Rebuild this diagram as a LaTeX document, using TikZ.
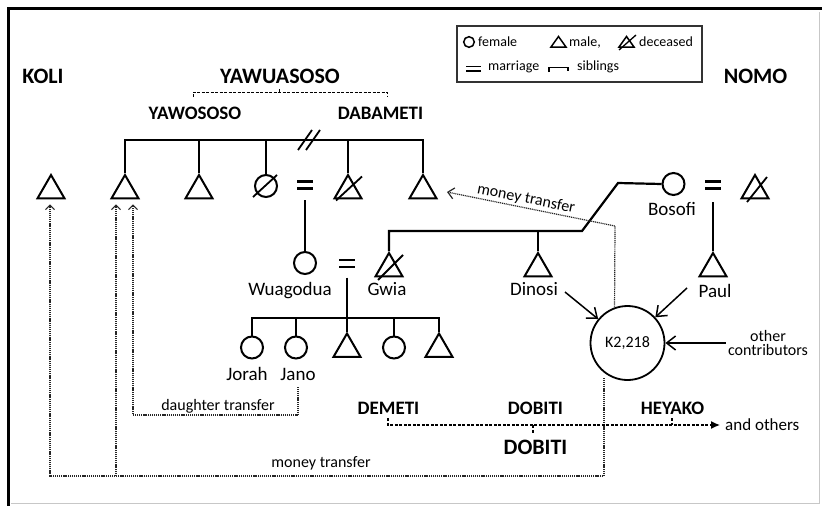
\documentclass[tikz,border=0pt]{standalone}
\usepackage{fontspec}
\setmainfont{Carlito}
\usetikzlibrary{shapes.geometric,arrows.meta,calc}
\begin{document}
\begin{tikzpicture}[x=1pt,y=-1pt,
  ln/.style={line width=2.2pt},
  male/.style={draw, line width=2pt, regular polygon, regular polygon sides=3, minimum size=31pt, inner sep=0pt},
  fem/.style={draw, line width=2pt, circle, minimum size=22pt, inner sep=0pt},
  nlab/.style={font=\fontsize{19}{21}\selectfont, inner sep=0pt, anchor=base},
  bigb/.style={font=\bfseries\fontsize{22}{24}\selectfont, inner sep=0pt},
  midb/.style={font=\bfseries\fontsize{19}{21}\selectfont, inner sep=0pt},
  tlab/.style={font=\fontsize{16}{17}\selectfont, inner sep=0pt},
  legt/.style={font=\fontsize{14}{15}\selectfont, inner sep=0pt, anchor=base west},
  dotl/.style={line width=1.2pt, dash pattern=on 1.1pt off 0.8pt, black!85},
  dsh/.style={line width=1.3pt, dash pattern=on 3pt off 1.5pt},
  sbar/.style={-{Straight Barb[length=4.5pt,width=9pt]}},
  bbar/.style={-{Straight Barb[length=9pt,width=14pt]}},
  slsh/.style={line width=1.8pt},
]
\useasboundingbox (0,0) rectangle (822,506);
\fill[white] (0,0) rectangle (822,506);
% frame
\draw[line width=3.5pt] (8.5,506) -- (8.5,8.5) -- (822,8.5);
\draw[black!22, line width=1pt] (819,12) -- (819,503) -- (11,503);

% legend
\draw[line width=1.5pt, black!80] (457,26) rectangle (702,82);
\draw[line width=1.5pt] (469,42) circle[radius=5.3];
\node[legt] (lf) at (478,46.5) {female};
\draw[line width=1.5pt] (551,47) -- (558.5,36.5) -- (566,47) -- cycle;
\node[legt] (lm) at (569,46.5) {male,};
\draw[line width=1.5pt] (619,47) -- (626.5,36.5) -- (634,47) -- cycle;
\draw[line width=1.3pt] (619,50) -- (636,35);
\node[legt] (ld) at (639,46.5) {deceased};
\draw[line width=1.3pt] (466,66.5) -- (481,66.5) (466,71) -- (481,71);
\node[legt] (lmar) at (488,70.5) {marriage};
\draw[line width=1.8pt] (549,72) -- (549,67.5) -- (568,67.5) -- (568,71);
\node[legt] (lsib) at (577,70.5) {siblings};

% group names
\node[bigb] (koli) at (43,76.5) {KOLI};
\node[bigb] (yawu) at (280,76.5) {YAWUASOSO};
\node[bigb] (nomo) at (755.5,76.5) {NOMO};
\node[midb] (yawo) at (195,113.5) {YAWOSOSO};
\node[midb] (daba) at (380.5,113.5) {DABAMETI};
\draw[dsh, line width=1pt] (193,97) -- (193,92) -- (387,92) -- (387,97) (279,92) -- (279,88);

% top row
\node[male] (ko) at (51,190.5) {};
\node[male] (t2) at (125,190.5) {};
\node[male] (t3) at (199,190.5) {};
\node[fem] (c4) at (266,186) {};
\coordinate (m1) at (305,185);
\node[male] (t5) at (348,190.5) {};
\node[male] (t6) at (423,190.5) {};
\coordinate (tl) at (0,140);
\draw[ln] (t2.corner 1) -- (t2.corner 1 |- tl) -- (t6.corner 1 |- tl) -- (t6.corner 1);
\draw[ln] (t3.corner 1) -- (t3.corner 1 |- tl);
\draw[ln] (c4.north) -- (c4.north |- tl);
\draw[ln] (t5.corner 1) -- (t5.corner 1 |- tl);
\draw[slsh] (298,150) -- (312,130) (306,150) -- (320,130);
\draw[slsh] ($(c4)+(-13,11)$) -- ($(c4)+(11,-11)$);
\draw[slsh] ($(t5)+(-12,10)$) -- ($(t5)+(14,-14)$);
\draw[ln] ($(m1)+(-8,-3.5)$) -- ++(16,0) ($(m1)+(-8,3.5)$) -- ++(16,0);

% second generation
\node[fem] (wua) at (305,263) {};
\node[nlab] (wual) at (290,295) {Wuagodua};
\draw[ln] ($(m1)+(0,15)$) -- (wua.north);
\coordinate (m2) at (347,263.5);
\draw[ln] ($(m2)+(-8,-3.5)$) -- ++(16,0) ($(m2)+(-8,3.5)$) -- ++(16,0);
\node[male] (gwia) at (389,268.5) {};
\draw[slsh] ($(gwia)+(-11,11.5)$) -- ($(gwia)+(14,-13.5)$);
\node[nlab] (gwial) at (387,295) {Gwia};
\node[male] (din) at (538,268.5) {};
\node[nlab] (dinl) at (534,295) {Dinosi};
\node[fem] (bos) at (673.5,184) {};
\node[nlab] (bosl) at (672,215) {Bosofi};
\coordinate (gl) at (0,231);
\coordinate (gk) at (582,231);
\coordinate (gt) at (618,183);
\draw[ln] (gwia.corner 1) -- (gwia.corner 1 |- gl) -- (gk) -- (gt) -- (bos.west);
\draw[ln] (din.corner 1) -- (din.corner 1 |- gl);
\coordinate (m3) at (713,185);
\draw[ln] ($(m3)+(-8,-3.5)$) -- ++(16,0) ($(m3)+(-8,3.5)$) -- ++(16,0);
\node[male] (nd) at (755,190.5) {};
\draw[slsh] ($(nd)+(-8,11.5)$) -- ($(nd)+(12,-13.5)$);
\node[male] (paul) at (713,268.5) {};
\node[nlab] (paull) at (715,297) {Paul};
\draw[ln] ($(m3)+(0,17)$) -- (paul.corner 1);

% children
\coordinate (cl) at (0,318);
\node[fem] (jor) at (252,347.5) {};
\node[fem] (jan) at (296,347.5) {};
\node[male] (ch3) at (347,349) {};
\node[fem] (ch4) at (394,347.5) {};
\node[male] (ch5) at (439,349) {};
\draw[ln] (jor.north) -- (jor.north |- cl) -- (ch5.corner 1 |- cl) -- (ch5.corner 1);
\draw[ln] (jan.north) -- (jan.north |- cl);
\draw[ln] ($(m2)+(0,14)$) -- (ch3.corner 1);
\draw[ln] (ch4.north) -- (ch4.north |- cl);
\node[nlab] (jorl) at (247,380) {Jorah};
\node[nlab] (janl) at (298,380) {Jano};

% contributions
\node[draw, circle, line width=1.8pt, minimum size=74pt, inner sep=0pt, font=\fontsize{16}{17}\selectfont] (k2) at (627.5,343) {K2,218};
\node[font=\fontsize{16}{13.5}\selectfont, align=center, inner sep=2pt] (oc) at (768,343) {other\\contributors};
\coordinate (dn) at (565,292);
\coordinate (pa) at (687,288);
\draw[line width=1.5pt, bbar] (dn) -- (k2);
\draw[line width=1.5pt, bbar] (pa) -- (k2);
\draw[line width=1.5pt, bbar] (oc.west) -- (k2);

% money transfer (top)
\coordinate (mt1) at (615,226);
\coordinate (mt2) at (447,192);
\draw[dotl, -{Straight Barb[length=6pt,width=11pt]}] (k2.110) -- (mt1) -- (mt2);
\path (mt2) -- (mt1) node[pos=0.46, sloped, above=2pt, tlab] (mtt) {money transfer};

% money transfer (bottom)
\coordinate (mb0) at (604,378);
\coordinate (mbR) at (604,476);
\coordinate (mbL) at (50,476);
\coordinate (mb2) at (116,476);
\draw[dotl, sbar, shorten >=5pt] (mb0) -- (mbR) -- (mbL) -- (mbL |- ko.south);
\draw[dotl, sbar, shorten >=5pt] (mb2) -- (mb2 |- t2.south);
\node[tlab, anchor=base] (mtl) at (321,467) {money transfer};

% daughter transfer
\coordinate (dt0) at (298,387);
\coordinate (dt1) at (298,415);
\coordinate (dt2) at (133,415);
\draw[dotl, sbar, shorten >=5pt] (dt0) -- (dt1) -- (dt2) -- (dt2 |- t2.south);
\node[tlab, anchor=base] (dtl) at (218,410) {daughter transfer};

% lineages bottom
\node[midb] (dem) at (388.5,408) {DEMETI};
\node[midb] (dob1) at (535.5,408) {DOBITI};
\node[midb] (hey) at (672.5,408) {HEYAKO};
\node[bigb] (dob2) at (535.5,447) {DOBITI};
\node[font=\fontsize{17}{18}\selectfont, inner sep=0pt, anchor=west] (ao) at (725,425) {and others};
\draw[dsh, -{Latex[length=9pt,width=8pt]}] ($(dem.south)+(-0.5,4)$) |- ($(ao.west)+(-5,0)$);
\draw[dsh] ($(dob1.south)+(-2.5,11)$) -- ($(dob2.north)+(-2.5,-6)$);
\draw[dsh] ($(hey.south)+(-0.5,4)$) -- ($(hey.south)+(-0.5,11)$);
\end{tikzpicture}
\end{document}
